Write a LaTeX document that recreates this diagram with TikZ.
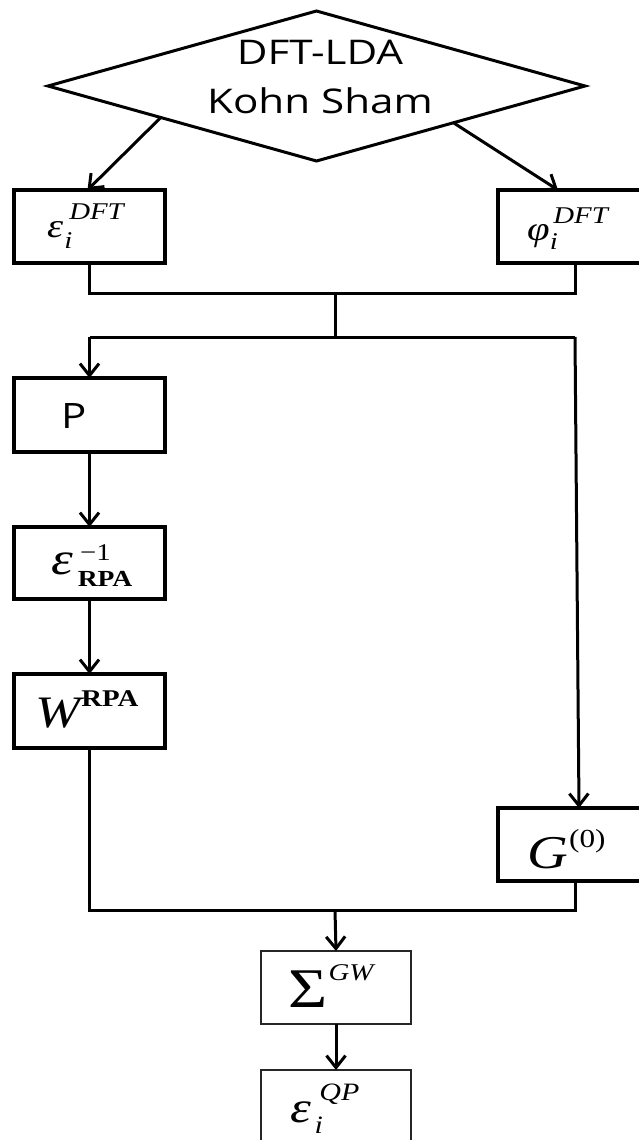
\documentclass[tikz,border=0pt]{standalone}
\usepackage{fontspec}
\usepackage{graphicx}
\setmainfont{Liberation Serif}
\newfontfamily\sansf{Open Sans}
\usetikzlibrary{shapes.geometric,arrows.meta,calc}
\newcommand{\sx}[1]{\scalebox{1.2}[1]{#1}}
\newcommand{\sxx}[1]{\scalebox{1.24}[1]{#1}}
\newcommand{\fsz}[1]{\fontsize{#1}{#1}\selectfont}
\begin{document}
\begin{tikzpicture}[x=1pt,y=-1pt,
  thickbox/.style={draw=black,line width=3.4pt,rectangle,inner sep=0pt,outer sep=0pt,minimum height=73pt,minimum width=151pt},
  thinbox/.style={draw=black!85,line width=2pt,rectangle,inner sep=0pt,outer sep=0pt,minimum height=73pt,minimum width=150pt},
  conn/.style={line width=3pt,draw=black},
  arr/.style={conn,-{Straight Barb[length=12pt,width=19pt]}},
  lab/.style={inner sep=0pt,anchor=base west}]
\useasboundingbox (0,0) rectangle (639,1140);
\clip (0,0) rectangle (639,1140);
\fill[white] (0,0) rectangle (639,1140);

% diamond
\node[draw,line width=3pt,shape=diamond,inner sep=0pt,outer sep=0pt,minimum width=537pt,minimum height=150pt] (dia) at (316.5,86) {};
\node[inner sep=0pt,anchor=north,align=center,font={\sansf\fontsize{34}{49}\selectfont}] (dtext) at (320,39.7) {\sxx{DFT-LDA}\\\sxx{Kohn Sham}};

% boxes
\node[thickbox] (bE) at (89.5,226.5) {};
\node[thickbox,minimum width=154pt] (bPhi) at (575,226.5) {};
\node[thickbox,minimum height=74pt] (bP) at (89.5,415) {};
\node[thickbox,minimum height=72pt] (bEps) at (89.5,563) {};
\node[thickbox,minimum height=74pt] (bW) at (89.5,711) {};
\node[thickbox,minimum width=154pt] (bG) at (575,844.5) {};
\node[thinbox] (bS) at (336,987.5) {};
\node[thinbox] (bQ) at (336,1106.5) {};

% labels
\node[lab] (lE) at (47,237) {\sx{\fsz{34}\itshape ε\rlap{\kern5pt\raisebox{18pt}{\fsz{24}DFT}}\kern1pt\raisebox{-11pt}{\fsz{24}i}}};
\node[lab] (lPhi) at (527,240) {\sx{\fsz{34}\itshape φ\rlap{\kern3pt\raisebox{17pt}{\fsz{24}DFT}}\raisebox{-9pt}{\fsz{24}i}}};
\node[lab] (lP) at (61,428) {\sx{\sansf\fsz{35}P}};
\node[lab] (lEps) at (51,574) {\sx{\fsz{46}\itshape ε\rlap{\kern6pt\raisebox{14pt}{\upshape\fsz{24}−1}}\kern4pt\raisebox{-12pt}{\upshape\bfseries\fsz{23}RPA}}};
\node[lab] (lW) at (35,727) {\sx{\fsz{45}\itshape W\kern1pt\raisebox{21pt}{\upshape\bfseries\fsz{24}RPA}}};
\node[lab] (lG) at (527,868) {\sx{\fsz{47}\itshape G\kern1pt\raisebox{21pt}{\upshape\fsz{26}(0)}}};
\node[lab] (lS) at (288,1007) {\sx{\fsz{56}Σ\kern1pt\raisebox{27pt}{\itshape\fsz{24}GW}}};
\node[lab] (lQ) at (290,1122) {\sx{\fsz{44}\itshape ε\rlap{\kern7pt\raisebox{22pt}{\fsz{25}QP}}\kern3pt\raisebox{-11pt}{\fsz{25}i}}};

% connectors
\coordinate (m) at (335,293);
\coordinate (br) at (335,337);
\coordinate (j) at (335,910);
\draw[arr] ($(dia.west)!0.42!(dia.south)$) -- ([xshift=-2pt]bE.north);
\draw[arr] ($(dia.east)!0.49!(dia.south)$) -- ([xshift=-17pt]bPhi.north);
\draw[conn] (bE.south) -- (bE.south |- m) -- (bPhi.south |- m) -- (bPhi.south);
\draw[conn] (m) -- (br);
\draw[conn] (bP.north |- br) -- (bG.north |- br);
\draw[arr] (bP.north |- br) -- (bP.north);
\draw[arr] (bG.north |- br) -- ([xshift=4pt]bG.north);
\draw[arr] (bP.south) -- (bEps.north);
\draw[arr] (bEps.south) -- (bW.north);
\draw[conn] (bW.south) -- (bW.south |- j) -- (bG.south |- j) -- (bG.south);
\draw[arr] (j) -- (bS.north);
\draw[arr] (bS.south) -- (bQ.north);
\end{tikzpicture}
\end{document}
